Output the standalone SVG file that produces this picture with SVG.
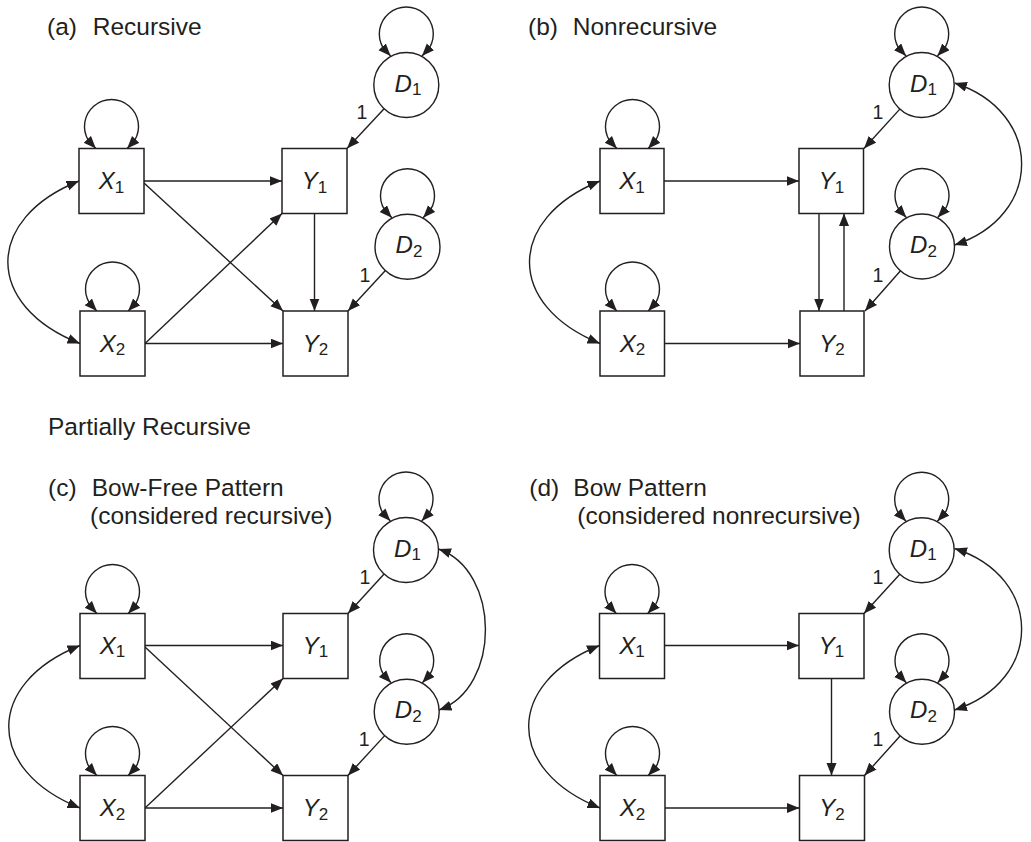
<svg xmlns="http://www.w3.org/2000/svg" xmlns:xlink="http://www.w3.org/1999/xlink" width="1031" height="842" viewBox="0 0 1031 842">
  <style>
    .box { fill: #fff; stroke: #231f20; stroke-width: 1.5; }
    .circ { fill: #fff; stroke: #231f20; stroke-width: 1.4; }
    .edge { fill: none; stroke: #231f20; stroke-width: 1.4; marker-end: url(#arrow); }
    .both { fill: none; stroke: #231f20; stroke-width: 1.4; marker-start: url(#arrow); marker-end: url(#arrow); }
    .title { font-family: "Liberation Sans", Arial, sans-serif; font-size: 24.5px; fill: #231f20; }
    .lbl { font-family: "Liberation Sans", Arial, sans-serif; font-size: 24px; fill: #231f20; text-anchor: middle; }
    .lbl .v { font-style: italic; }
    .lbl .s { font-size: 17px; }
    .one { font-family: "Liberation Sans", Arial, sans-serif; font-size: 19.5px; fill: #231f20; text-anchor: middle; }
  </style>
  <defs>
    <marker id="arrow" markerUnits="userSpaceOnUse" markerWidth="14" markerHeight="11" refX="12.5" refY="5" orient="auto-start-reverse">
      <path d="M0,0 L12.5,5 L0,10 Z" fill="#231f20"/>
    </marker>
    <!-- variance loop: arrow tips sit on the baseline at x = +/-15.65 -->
    <path id="loop" class="both" d="M -15.65,0 L -23.07,-7.97 A 27 27 0 1 1 23.07,-7.97 L 15.65,0"/>
  </defs>

  <!-- headings -->
  <g id="headings">
    <text class="title" x="47" y="35">(a)</text>
    <text class="title" x="92.7" y="35">Recursive</text>
    <text class="title" x="528" y="35">(b)</text>
    <text class="title" x="572.7" y="35">Nonrecursive</text>
    <text class="title" x="48" y="435">Partially Recursive</text>
    <text class="title" x="48" y="496">(c)</text>
    <text class="title" x="91.7" y="496">Bow-Free Pattern</text>
    <text class="title" x="90" y="524">(considered recursive)</text>
    <text class="title" x="529.3" y="496">(d)</text>
    <text class="title" x="573.3" y="496">Bow Pattern</text>
    <text class="title" x="577.3" y="524">(considered nonrecursive)</text>
  </g>

  <!-- ===== (a) Recursive ===== -->
  <g id="a-connectors">
    <path class="edge" d="M144,181 H282"/>
    <path class="edge" d="M144,183 L283,311"/>
    <path class="edge" d="M145,343.5 L282,213.5"/>
    <path class="edge" d="M145,343.5 H283"/>
    <path class="edge" d="M314.5,213.5 V311"/>
    <path class="edge" d="M384.1,108.8 L347,148.5"/>
    <path class="edge" d="M385.4,270.5 L348,311"/>
    <path class="both" d="M79,181 C -16,219 -16,305.5 80,343.5"/>
    <use xlink:href="#loop" transform="translate(111.5,148.5)"/>
    <use xlink:href="#loop" transform="translate(112.5,311)"/>
    <use xlink:href="#loop" transform="translate(406.3,56)"/>
    <use xlink:href="#loop" transform="translate(407.5,217.7)"/>
    <text class="one" x="362" y="119">1</text>
    <text class="one" x="365" y="282">1</text>
  </g>
  <g id="a-X1"><rect class="box" x="79" y="148.5" width="65" height="65"/><text class="lbl" x="111.5" y="189"><tspan class="v">X</tspan><tspan class="s" dy="3.5">1</tspan></text></g>
  <g id="a-X2"><rect class="box" x="80" y="311" width="65" height="65"/><text class="lbl" x="112.5" y="351.5"><tspan class="v">X</tspan><tspan class="s" dy="3.5">2</tspan></text></g>
  <g id="a-Y1"><rect class="box" x="282" y="148.5" width="65" height="65"/><text class="lbl" x="314.5" y="189"><tspan class="v">Y</tspan><tspan class="s" dy="3.5">1</tspan></text></g>
  <g id="a-Y2"><rect class="box" x="283" y="311" width="65" height="65"/><text class="lbl" x="315.5" y="351.5"><tspan class="v">Y</tspan><tspan class="s" dy="3.5">2</tspan></text></g>
  <g id="a-D1"><circle class="circ" cx="406.3" cy="85" r="32.5"/><text class="lbl" x="408" y="91.5"><tspan class="v">D</tspan><tspan class="s" dy="3.5">1</tspan></text></g>
  <g id="a-D2"><circle class="circ" cx="407.5" cy="246.7" r="32.5"/><text class="lbl" x="409" y="253.2"><tspan class="v">D</tspan><tspan class="s" dy="3.5">2</tspan></text></g>

  <!-- ===== (b) Nonrecursive ===== -->
  <g id="b-connectors">
    <path class="edge" d="M664,181 H799"/>
    <path class="edge" d="M665,343.5 H800"/>
    <path class="edge" d="M819,213.5 V311"/>
    <path class="edge" d="M844,311 V213.5"/>
    <path class="edge" d="M899.8,109.1 L864,148.5"/>
    <path class="edge" d="M900.5,270.8 L865,311"/>
    <path class="both" d="M600,181 C 506,219 506,305.5 600,343.5"/>
    <path class="both" d="M954.5,83 C 1044,112 1044,216 954.5,245"/>
    <use xlink:href="#loop" transform="translate(632.5,148.5)"/>
    <use xlink:href="#loop" transform="translate(632.5,311)"/>
    <use xlink:href="#loop" transform="translate(921.7,56)"/>
    <use xlink:href="#loop" transform="translate(922,217.5)"/>
    <text class="one" x="878" y="119">1</text>
    <text class="one" x="878" y="282">1</text>
  </g>
  <g id="b-X1"><rect class="box" x="600" y="148.5" width="64" height="65"/><text class="lbl" x="632" y="189"><tspan class="v">X</tspan><tspan class="s" dy="3.5">1</tspan></text></g>
  <g id="b-X2"><rect class="box" x="600" y="311" width="64.5" height="65"/><text class="lbl" x="632.5" y="351.5"><tspan class="v">X</tspan><tspan class="s" dy="3.5">2</tspan></text></g>
  <g id="b-Y1"><rect class="box" x="799" y="148.5" width="64.5" height="65"/><text class="lbl" x="831.5" y="189"><tspan class="v">Y</tspan><tspan class="s" dy="3.5">1</tspan></text></g>
  <g id="b-Y2"><rect class="box" x="800" y="311" width="64" height="65"/><text class="lbl" x="832" y="351.5"><tspan class="v">Y</tspan><tspan class="s" dy="3.5">2</tspan></text></g>
  <g id="b-D1"><circle class="circ" cx="921.7" cy="85" r="32.5"/><text class="lbl" x="923.5" y="91.5"><tspan class="v">D</tspan><tspan class="s" dy="3.5">1</tspan></text></g>
  <g id="b-D2"><circle class="circ" cx="922" cy="246.5" r="32.5"/><text class="lbl" x="923.5" y="253"><tspan class="v">D</tspan><tspan class="s" dy="3.5">2</tspan></text></g>

  <!-- ===== (c) Bow-free pattern ===== -->
  <g id="c-connectors">
    <path class="edge" d="M145,645.5 H283"/>
    <path class="edge" d="M145,647 L283,775.5"/>
    <path class="edge" d="M145,808 L283,678.5"/>
    <path class="edge" d="M145,808 H283"/>
    <path class="edge" d="M384.1,574 L348,613.5"/>
    <path class="edge" d="M384.7,735.6 L348,775.5"/>
    <path class="both" d="M80,645.5 C -15,683.5 -15,770 80,808"/>
    <path class="both" d="M438.5,549 C 501,571 501,688 439,710"/>
    <use xlink:href="#loop" transform="translate(112.5,613.5)"/>
    <use xlink:href="#loop" transform="translate(112.5,775.5)"/>
    <use xlink:href="#loop" transform="translate(406,521)"/>
    <use xlink:href="#loop" transform="translate(406.7,682.7)"/>
    <text class="one" x="365" y="584">1</text>
    <text class="one" x="364.3" y="746">1</text>
  </g>
  <g id="c-X1"><rect class="box" x="80" y="613.5" width="65" height="65"/><text class="lbl" x="112.5" y="653.5"><tspan class="v">X</tspan><tspan class="s" dy="3.5">1</tspan></text></g>
  <g id="c-X2"><rect class="box" x="80" y="775.5" width="65" height="65"/><text class="lbl" x="112.5" y="816"><tspan class="v">X</tspan><tspan class="s" dy="3.5">2</tspan></text></g>
  <g id="c-Y1"><rect class="box" x="283" y="613.5" width="65" height="65"/><text class="lbl" x="315.5" y="653.5"><tspan class="v">Y</tspan><tspan class="s" dy="3.5">1</tspan></text></g>
  <g id="c-Y2"><rect class="box" x="283" y="775.5" width="65" height="65"/><text class="lbl" x="315.5" y="816"><tspan class="v">Y</tspan><tspan class="s" dy="3.5">2</tspan></text></g>
  <g id="c-D1"><circle class="circ" cx="406" cy="550" r="32.5"/><text class="lbl" x="407.5" y="556.5"><tspan class="v">D</tspan><tspan class="s" dy="3.5">1</tspan></text></g>
  <g id="c-D2"><circle class="circ" cx="406.7" cy="711.7" r="32.5"/><text class="lbl" x="408.2" y="718.2"><tspan class="v">D</tspan><tspan class="s" dy="3.5">2</tspan></text></g>

  <!-- ===== (d) Bow pattern ===== -->
  <g id="d-connectors">
    <path class="edge" d="M664.5,645.5 H799"/>
    <path class="edge" d="M831.5,678.5 V775.5"/>
    <path class="edge" d="M665,808 H799.5"/>
    <path class="edge" d="M899.8,574.3 L864,613.5"/>
    <path class="edge" d="M900.3,735.8 L864.5,775.5"/>
    <path class="both" d="M599.5,645.5 C 505,683.5 505,770 600,808"/>
    <path class="both" d="M954.5,548.5 C 1044,577 1044,681 954.5,710"/>
    <use xlink:href="#loop" transform="translate(632,613.5)"/>
    <use xlink:href="#loop" transform="translate(632.5,775.5)"/>
    <use xlink:href="#loop" transform="translate(921.7,521.3)"/>
    <use xlink:href="#loop" transform="translate(922,682.7)"/>
    <text class="one" x="878" y="584">1</text>
    <text class="one" x="878" y="746">1</text>
  </g>
  <g id="d-X1"><rect class="box" x="599.5" y="613.5" width="65" height="65"/><text class="lbl" x="632" y="653.5"><tspan class="v">X</tspan><tspan class="s" dy="3.5">1</tspan></text></g>
  <g id="d-X2"><rect class="box" x="600" y="775.5" width="65" height="65"/><text class="lbl" x="632.5" y="816"><tspan class="v">X</tspan><tspan class="s" dy="3.5">2</tspan></text></g>
  <g id="d-Y1"><rect class="box" x="799" y="613.5" width="65" height="65"/><text class="lbl" x="831.5" y="653.5"><tspan class="v">Y</tspan><tspan class="s" dy="3.5">1</tspan></text></g>
  <g id="d-Y2"><rect class="box" x="799.5" y="775.5" width="65" height="65"/><text class="lbl" x="832" y="816"><tspan class="v">Y</tspan><tspan class="s" dy="3.5">2</tspan></text></g>
  <g id="d-D1"><circle class="circ" cx="921.7" cy="550.3" r="32.5"/><text class="lbl" x="923.2" y="556.8"><tspan class="v">D</tspan><tspan class="s" dy="3.5">1</tspan></text></g>
  <g id="d-D2"><circle class="circ" cx="922" cy="711.7" r="32.5"/><text class="lbl" x="923.5" y="718.2"><tspan class="v">D</tspan><tspan class="s" dy="3.5">2</tspan></text></g>
</svg>
